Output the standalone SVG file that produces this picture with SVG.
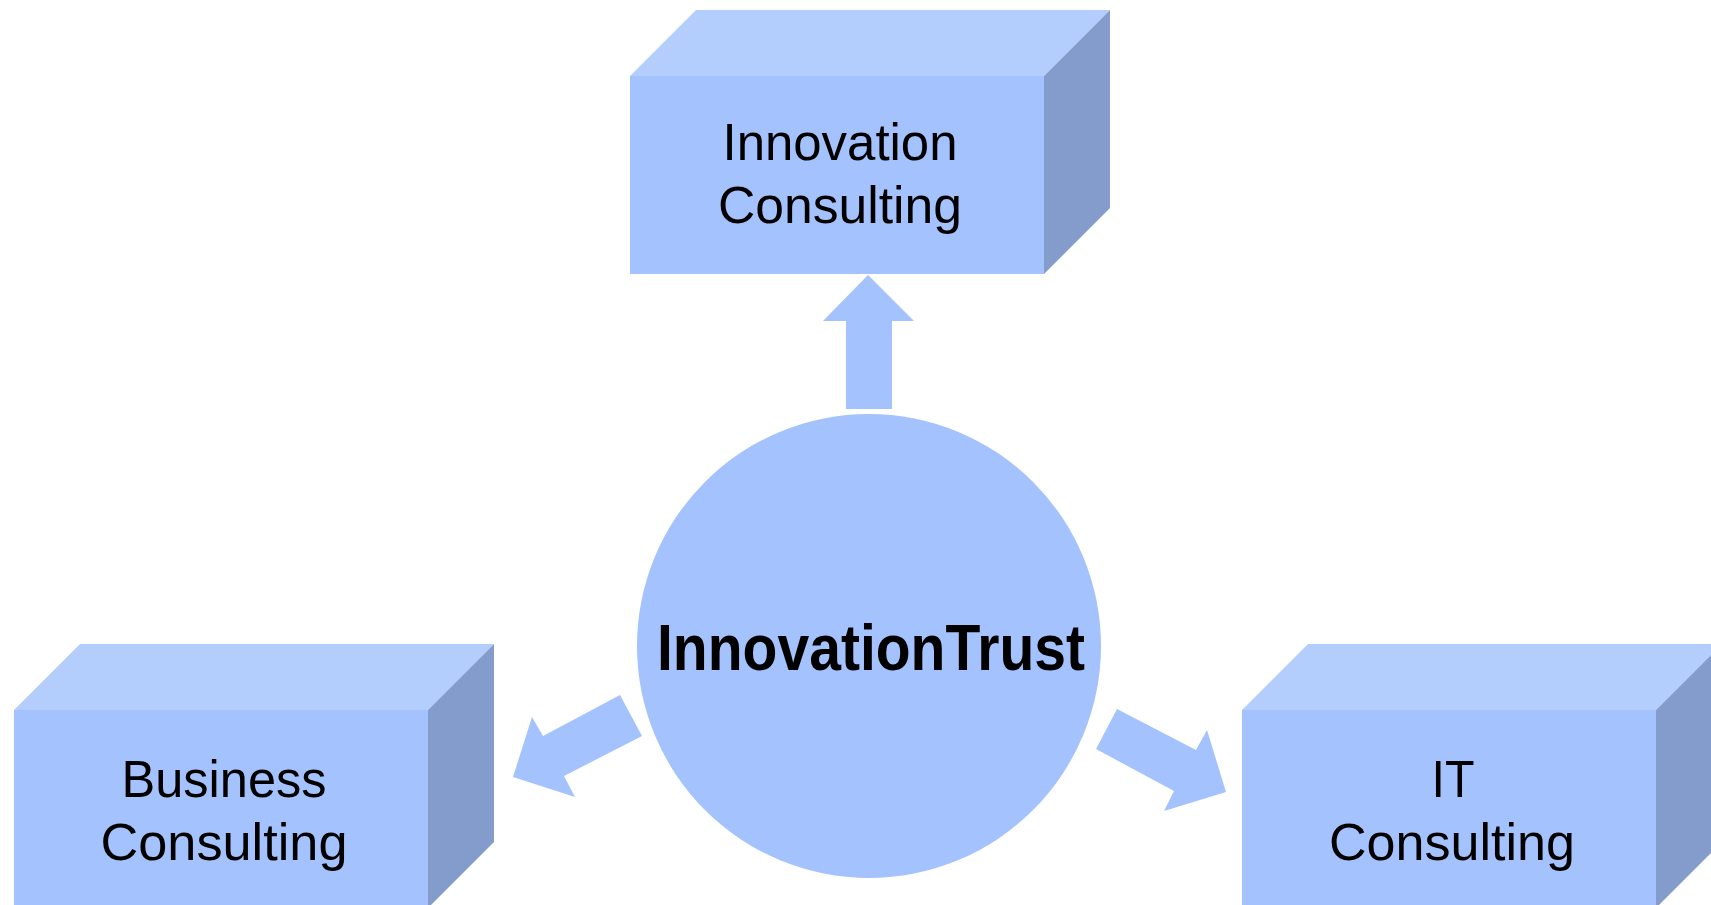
<svg xmlns="http://www.w3.org/2000/svg" width="1711" height="905" viewBox="0 0 1711 905">
<style>
.front{fill:#A4C2FD}
.top{fill:#B3CDFD}
.side{fill:#849CCC}
.arrow{fill:#A4C2FD}
.lbl{font-family:"Liberation Sans",Arial,sans-serif;font-size:52px;fill:#000;text-anchor:middle}
.hub{font-family:"Liberation Sans",Arial,sans-serif;font-size:64px;font-weight:bold;fill:#000;text-anchor:middle}
</style>
<rect width="1711" height="905" fill="#fff"/>
<g id="connectors">
<polygon class="arrow" points="868,275 914,321 892,321 892,409 846,409 846,321 823,321"/>
<polygon class="arrow" points="513,777 532,717 543,736 620,695 642,736 564,776 575,797"/>
<polygon class="arrow" points="1226,792 1207,730 1196,750 1117,709 1096,749 1174,791 1164,811"/>
</g>
<g id="innovation-consulting">
<polygon class="top" points="630,76 696,10 1110,10 1044,76"/>
<polygon class="side" points="1044,76 1110,10 1110,208 1044,274"/>
<rect class="front" x="630" y="76" width="414" height="198"/>
<text class="lbl" x="840" y="160" textLength="235" lengthAdjust="spacingAndGlyphs">Innovation</text>
<text class="lbl" x="840" y="223" textLength="244" lengthAdjust="spacingAndGlyphs">Consulting</text>
</g>
<g id="business-consulting">
<polygon class="top" points="14,710 80,644 494,644 428,710"/>
<polygon class="side" points="428,710 494,644 494,842 428,908"/>
<rect class="front" x="14" y="710" width="414" height="198"/>
<text class="lbl" x="224" y="797" textLength="205" lengthAdjust="spacingAndGlyphs">Business</text>
<text class="lbl" x="224" y="860" textLength="247" lengthAdjust="spacingAndGlyphs">Consulting</text>
</g>
<g id="it-consulting">
<polygon class="top" points="1242,710 1308,644 1722,644 1656,710"/>
<polygon class="side" points="1656,710 1722,644 1722,842 1656,908"/>
<rect class="front" x="1242" y="710" width="414" height="198"/>
<text class="lbl" x="1453" y="797" textLength="43" lengthAdjust="spacingAndGlyphs">IT</text>
<text class="lbl" x="1452" y="860" textLength="246" lengthAdjust="spacingAndGlyphs">Consulting</text>
</g>
<g id="innovation-trust">
<circle class="front" cx="869" cy="646" r="232"/>
<text class="hub" x="871" y="670" textLength="428" lengthAdjust="spacingAndGlyphs">InnovationTrust</text>
</g>
</svg>
